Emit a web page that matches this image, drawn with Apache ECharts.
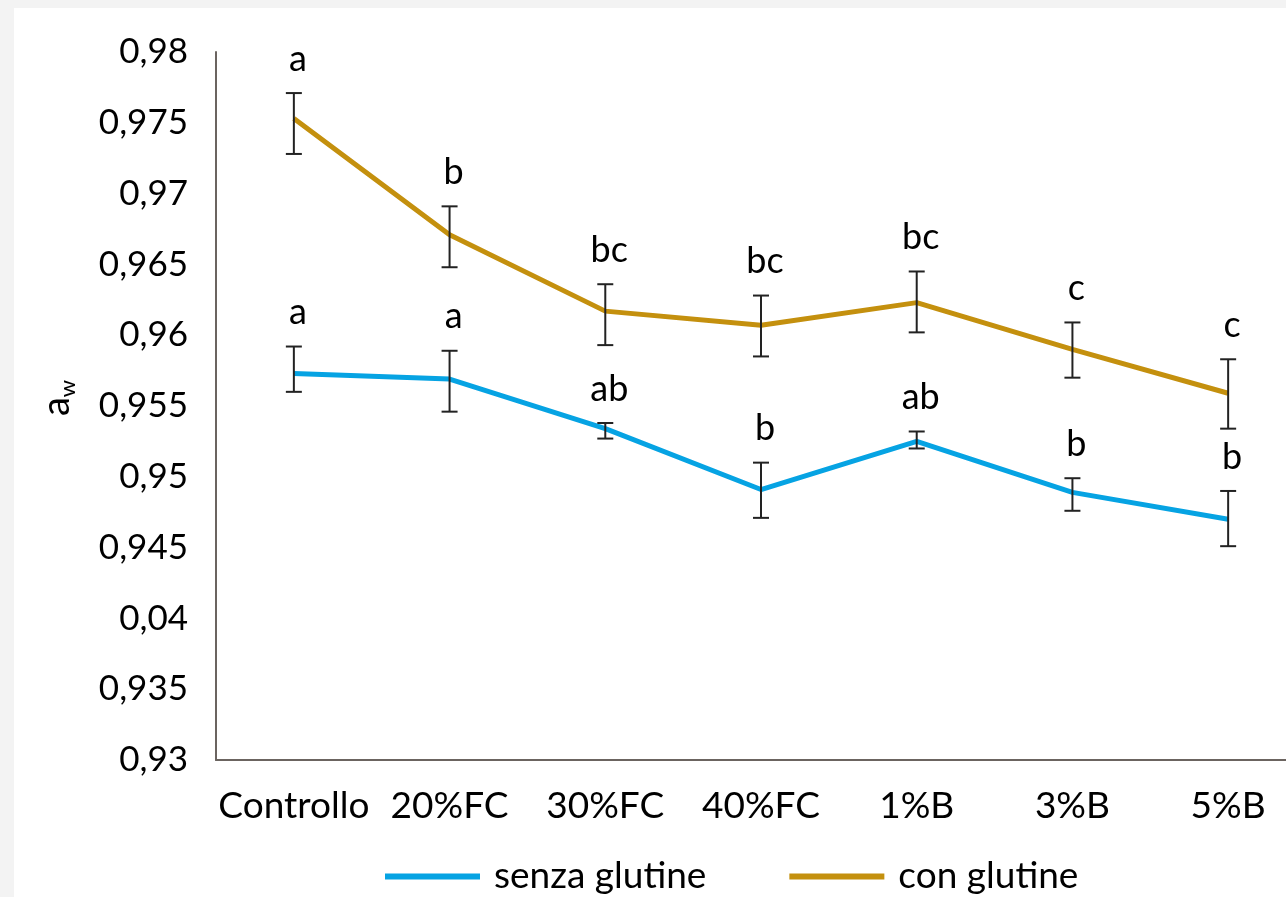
<!DOCTYPE html>
<html>
<head>
<meta charset="utf-8">
<script src="https://cdn.jsdelivr.net/npm/echarts@6/dist/echarts.min.js"></script>
<style>
html,body{margin:0;padding:0;background:#fff;}
#chart{width:1286px;height:897px;}
</style>
</head>
<body>
<div id="chart"></div>
<script>
const categories = ['Controllo', '20%FC', '30%FC', '40%FC', '1%B', '3%B', '5%B'];
const yTickLabels = ['0,93', '0,935', '0,04', '0,945', '0,95', '0,955', '0,96', '0,965', '0,97', '0,975', '0,98'];

const senzaGlutine = [0.9573, 0.9569, 0.9534, 0.9491, 0.9525, 0.9489, 0.9470];
const senzaHigh    = [0.9592, 0.9589, 0.9538, 0.9510, 0.9532, 0.9499, 0.9490];
const senzaLow     = [0.9560, 0.9546, 0.9527, 0.9471, 0.9520, 0.9476, 0.9451];
const senzaLetters = ['a', 'a', 'ab', 'b', 'ab', 'b', 'b'];

const conGlutine = [0.9753, 0.9671, 0.9617, 0.9607, 0.9623, 0.9590, 0.9559];
const conHigh    = [0.9771, 0.9691, 0.9636, 0.9628, 0.9645, 0.9609, 0.9583];
const conLow     = [0.9728, 0.9648, 0.9593, 0.9585, 0.9602, 0.9570, 0.9534];
const conLetters = ['a', 'b', 'bc', 'bc', 'bc', 'c', 'c'];

const FONT = 'Lato';

function errorSeries(name, high, low, letters) {
  const data = categories.map((c, i) => [i, high[i], low[i]]);
  return {
    type: 'custom',
    name: name + '_err',
    data: data,
    z: 10,
    silent: true,
    clip: false,
    renderItem: function (params, api) {
      const x = api.value(0);
      const top = api.coord([x, api.value(1)]);
      const bot = api.coord([x, api.value(2)]);
      const cap = 8;
      const st = { stroke: '#222', lineWidth: 2 };
      return {
        type: 'group',
        children: [
          { type: 'line', shape: { x1: top[0], y1: top[1], x2: bot[0], y2: bot[1] }, style: st },
          { type: 'line', shape: { x1: top[0] - cap, y1: top[1], x2: top[0] + cap, y2: top[1] }, style: st },
          { type: 'line', shape: { x1: bot[0] - cap, y1: bot[1], x2: bot[0] + cap, y2: bot[1] }, style: st },
          { type: 'text', x: top[0] + 4, y: top[1] - 16,
            style: { text: letters[params.dataIndex], fill: '#000', font: '36px ' + FONT, align: 'center', verticalAlign: 'bottom' } }
        ]
      };
    }
  };
}

const chart = echarts.init(document.getElementById('chart'));
chart.setOption({
  backgroundColor: '#fff',
  animation: false,
  graphic: [
    { type: 'rect', left: 0, top: 0, shape: { width: 14, height: 897 }, style: { fill: '#f3f3f3' }, silent: true },
    { type: 'rect', left: 0, top: 0, shape: { width: 1286, height: 8 }, style: { fill: '#f3f3f3' }, silent: true }
  ],
  grid: { left: 216, top: 52, bottom: 137, width: 1090, containLabel: false, outerBoundsMode: 'none' },
  legend: {
    left: 385, top: 858, padding: 0,
    itemWidth: 95, itemHeight: 6, itemGap: 83,
    icon: 'rect',
    data: ['senza glutine', 'con glutine'],
    textStyle: { fontFamily: FONT, fontSize: 37, color: '#000', padding: [0, 0, 0, 9] }
  },
  xAxis: {
    type: 'category',
    data: categories,
    boundaryGap: true,
    axisLine: { lineStyle: { color: '#6b6460', width: 2 } },
    axisTick: { show: false },
    axisLabel: { fontFamily: FONT, fontSize: 37, color: '#000', margin: 28, interval: 0 },
    splitLine: { show: false }
  },
  yAxis: {
    type: 'value',
    min: 0.93, max: 0.98, interval: 0.005,
    name: '{a|a}{w|w}',
    nameLocation: 'middle',
    nameRotate: 90,
    nameGap: 137,
    nameTextStyle: {
      padding: [0, 0, 0, 16],
      rich: {
        a: { fontFamily: FONT, fontSize: 38, color: '#000', lineHeight: 44, verticalAlign: 'middle' },
        w: { fontFamily: FONT, fontSize: 22, color: '#000', lineHeight: 44, verticalAlign: 'bottom' }
      }
    },
    axisLine: { show: true, lineStyle: { color: '#6b6460', width: 2 } },
    axisTick: { show: false },
    splitLine: { show: false },
    axisLabel: {
      fontFamily: FONT, fontSize: 35, color: '#000', margin: 28,
      formatter: function (v) { return yTickLabels[Math.round((v - 0.93) / 0.005)]; }
    }
  },
  series: [
    { name: 'senza glutine', type: 'line', data: senzaGlutine, color: '#06a3e3',
      lineStyle: { width: 5, color: '#06a3e3' }, symbol: 'none', z: 5 },
    { name: 'con glutine', type: 'line', data: conGlutine, color: '#c4900e',
      lineStyle: { width: 5, color: '#c4900e' }, symbol: 'none', z: 5 },
    errorSeries('senza glutine', senzaHigh, senzaLow, senzaLetters),
    errorSeries('con glutine', conHigh, conLow, conLetters)
  ]
});
</script>
</body>
</html>
